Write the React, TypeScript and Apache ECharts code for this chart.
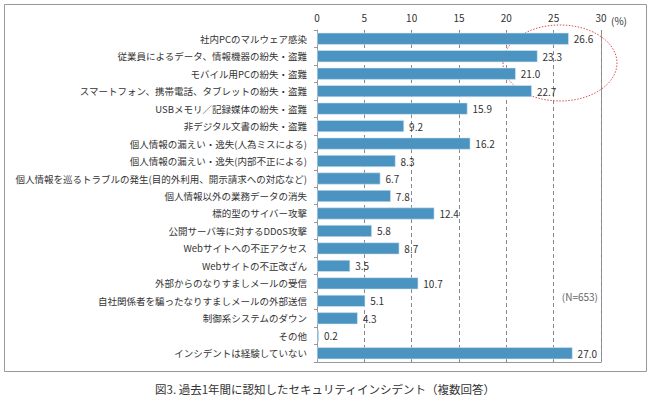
import React, { useEffect, useRef } from "react";
import * as echarts from "echarts";

const categories = [
  "社内PCのマルウェア感染",
  "従業員によるデータ、情報機器の紛失・盗難",
  "モバイル用PCの紛失・盗難",
  "スマートフォン、携帯電話、タブレットの紛失・盗難",
  "USBメモリ／記録媒体の紛失・盗難",
  "非デジタル文書の紛失・盗難",
  "個人情報の漏えい・逸失(人為ミスによる)",
  "個人情報の漏えい・逸失(内部不正による)",
  "個人情報を巡るトラブルの発生(目的外利用、開示請求への対応など)",
  "個人情報以外の業務データの消失",
  "標的型のサイバー攻撃",
  "公開サーバ等に対するDDoS攻撃",
  "Webサイトへの不正アクセス",
  "Webサイトの不正改ざん",
  "外部からのなりすましメールの受信",
  "自社関係者を騙ったなりすましメールの外部送信",
  "制御系システムのダウン",
  "その他",
  "インシデントは経験していない",
];
const values = [26.6, 23.3, 21.0, 22.7, 15.9, 9.2, 16.2, 8.3, 6.7, 7.8, 12.4, 5.8, 8.7, 3.5, 10.7, 5.1, 4.3, 0.2, 27.0];
const caption = "図3. 過去1年間に認知したセキュリティインシデント（複数回答）";
const noteText = "(N=653)";
const unitText = "(%)";

const FONT = "'Noto Sans CJK JP', 'Noto Sans', sans-serif";

export default function App() {
  const ref = useRef<HTMLDivElement>(null);
  useEffect(() => {
    if (!ref.current) return;
    const chart = echarts.init(ref.current, null, { renderer: "svg" });
    chart.setOption({
      animation: false,
      backgroundColor: "#ffffff",
      textStyle: { fontFamily: FONT },
      grid: { left: 317, right: 49, top: 30, bottom: 38, containLabel: false, outerBoundsMode: "none" },
      xAxis: {
        type: "value",
        position: "top",
        min: 0,
        max: 30,
        interval: 5,
        axisLine: { show: false },
        axisTick: { show: false },
        axisLabel: { color: "#333", fontSize: 10, margin: 8, fontFamily: FONT },
        splitLine: { show: true, lineStyle: { color: "#888", type: [4, 3], width: 1 } },
      },
      yAxis: {
        type: "category",
        inverse: true,
        data: categories,
        axisLine: { show: true, lineStyle: { color: "#999" } },
        axisTick: { show: true, length: 3, inside: false, lineStyle: { color: "#999" } },
        axisLabel: { color: "#333", fontSize: 9.5, margin: 10, fontFamily: FONT },
      },
      series: [
        {
          type: "bar",
          data: values,
          barWidth: 12,
          itemStyle: { color: "#4b93c0", borderColor: "#d6e8f3", borderWidth: 0.6 },
          label: {
            show: true,
            position: "right",
            distance: 5,
            color: "#333",
            fontSize: 10,
            fontFamily: FONT,
            formatter: (p: any) => Number(p.value).toFixed(1),
          },
        },
      ],
      graphic: [
        {
          type: "rect",
          shape: { x: 4.5, y: 4.5, width: 642, height: 367 },
          style: { fill: "none", stroke: "#999", lineWidth: 1 },
          silent: true,
        },
        {
          type: "line",
          shape: { x1: 601.5, y1: 30, x2: 601.5, y2: 362 },
          style: { stroke: "#999", lineWidth: 1 },
          silent: true,
        },
        {
          type: "line",
          shape: { x1: 317, y1: 362.5, x2: 601.5, y2: 362.5 },
          style: { stroke: "#999", lineWidth: 1 },
          silent: true,
        },
        {
          type: "ellipse",
          shape: { cx: 560, cy: 63, rx: 57, ry: 38 },
          style: { fill: "none", stroke: "#d9534f", lineWidth: 1, lineDash: [1.5, 1.5] },
          silent: true,
        },
        {
          type: "text",
          x: 611,
          y: 20,
          style: { text: unitText, fill: "#333", fontSize: 10, fontFamily: FONT, verticalAlign: "middle" },
        },
        {
          type: "text",
          x: 598,
          y: 296,
          style: { text: noteText, fill: "#666", fontSize: 10, fontFamily: FONT, align: "right", verticalAlign: "middle" },
        },
        {
          type: "text",
          x: 325,
          y: 389,
          style: { text: caption, fill: "#333", fontSize: 11.5, fontFamily: FONT, align: "center", verticalAlign: "middle" },
        },
      ],
    });
    return () => chart.dispose();
  }, []);
  return <div ref={ref} style={{ position: "fixed", left: 0, top: 0, width: 650, height: 400 }} />;
}
